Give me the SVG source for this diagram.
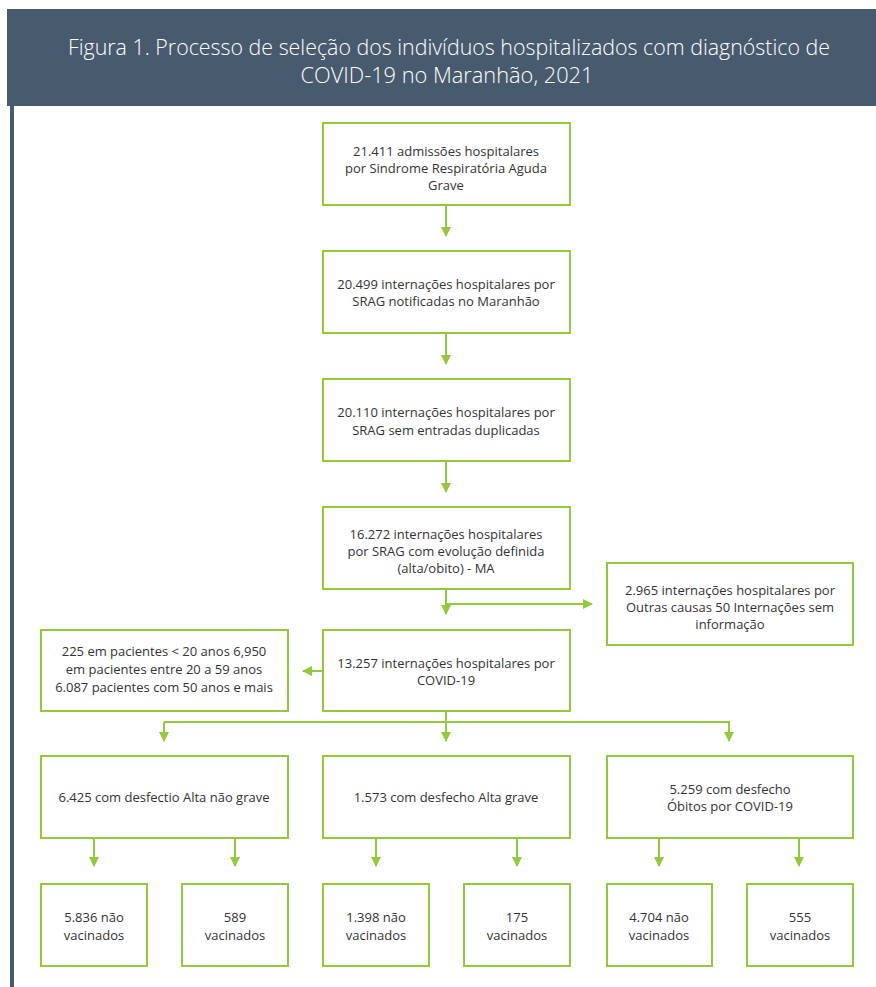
<svg xmlns="http://www.w3.org/2000/svg" width="876" height="987" viewBox="0 0 876 987">
<defs>
<style>
.box{fill:#fff;stroke:#94c83d;stroke-width:2}
.t{font-family:"Open Sans","Noto Sans",sans-serif;font-size:13px;fill:#333;text-anchor:middle}
.title{font-family:"Open Sans","Noto Sans",sans-serif;font-size:22.5px;fill:#fff;text-anchor:middle;font-weight:300}
.c{fill:none;stroke:#94c83d;stroke-width:2}
</style>
<marker id="ah" viewBox="0 0 10 10" refX="9" refY="5" markerWidth="5" markerHeight="5" orient="auto" markerUnits="strokeWidth">
<path d="M0,0 L10,5 L0,10 z" fill="#94c83d"/>
</marker>
</defs>
<rect width="876" height="987" fill="#fff"/>
<rect x="7" y="9" width="869" height="97" fill="#475a6e"/>
<rect x="10" y="106" width="4" height="881" fill="#475a6e"/>
<g id="title">
<text class="title" x="449" y="55" textLength="762" lengthAdjust="spacingAndGlyphs">Figura 1. Processo de seleção dos indivíduos hospitalizados com diagnóstico de</text>
<text class="title" x="447" y="83" textLength="293" lengthAdjust="spacingAndGlyphs">COVID-19 no Maranhão, 2021</text>
</g>
<g id="connectors">
<path class="c" d="M446,205 V236" marker-end="url(#ah)"/>
<path class="c" d="M446,333 V364" marker-end="url(#ah)"/>
<path class="c" d="M446,461 V492" marker-end="url(#ah)"/>
<path class="c" d="M446,589 V614" marker-end="url(#ah)"/>
<path class="c" d="M446,604 H592" marker-end="url(#ah)"/>
<path class="c" d="M323,671 H303" marker-end="url(#ah)"/>
<path class="c" d="M446,711 V741" marker-end="url(#ah)"/>
<path class="c" d="M164,722 H729 V741" marker-end="url(#ah)"/>
<path class="c" d="M164,722 V741" marker-end="url(#ah)"/>
<path class="c" d="M94,838 V866" marker-end="url(#ah)"/>
<path class="c" d="M235,838 V866" marker-end="url(#ah)"/>
<path class="c" d="M376,838 V866" marker-end="url(#ah)"/>
<path class="c" d="M517,838 V866" marker-end="url(#ah)"/>
<path class="c" d="M659,838 V866" marker-end="url(#ah)"/>
<path class="c" d="M799,838 V866" marker-end="url(#ah)"/>
</g>
<g id="n1"><rect class="box" x="323" y="123" width="247" height="82"/>
<text class="t" x="446" y="156">21.411 admissões hospitalares</text>
<text class="t" x="446" y="173">por Sindrome Respiratória Aguda</text>
<text class="t" x="446" y="190">Grave</text></g>
<g id="n2"><rect class="box" x="323" y="251" width="247" height="82"/>
<text class="t" x="446" y="289">20.499 internações hospitalares por</text>
<text class="t" x="446" y="306">SRAG notificadas no Maranhão</text></g>
<g id="n3"><rect class="box" x="323" y="379" width="247" height="82"/>
<text class="t" x="446" y="417">20.110 internações hospitalares por</text>
<text class="t" x="446" y="435">SRAG sem entradas duplicadas</text></g>
<g id="n4"><rect class="box" x="323" y="507" width="247" height="82"/>
<text class="t" x="446" y="539">16.272 internações hospitalares</text>
<text class="t" x="446" y="556">por SRAG com evolução definida</text>
<text class="t" x="446" y="573">(alta/obito) - MA</text></g>
<g id="n5"><rect class="box" x="607" y="563" width="246" height="82"/>
<text class="t" x="730" y="595">2.965 internações hospitalares por</text>
<text class="t" x="730" y="612">Outras causas 50 Internações sem</text>
<text class="t" x="730" y="629">informação</text></g>
<g id="n6"><rect class="box" x="323" y="630" width="247" height="81"/>
<text class="t" x="446" y="668">13.257 internações hospitalares por</text>
<text class="t" x="446" y="685">COVID-19</text></g>
<g id="n7"><rect class="box" x="41" y="630" width="247" height="81"/>
<text class="t" x="164" y="656">225 em pacientes &lt; 20 anos 6,950</text>
<text class="t" x="164" y="674">em pacientes entre 20 a 59 anos</text>
<text class="t" x="164" y="692">6.087 pacientes com 50 anos e mais</text></g>
<g id="n8"><rect class="box" x="41" y="756" width="247" height="82"/>
<text class="t" x="164" y="802">6.425 com desfectio Alta não grave</text></g>
<g id="n9"><rect class="box" x="323" y="756" width="247" height="82"/>
<text class="t" x="446" y="802">1.573 com desfecho Alta grave</text></g>
<g id="n10"><rect class="box" x="607" y="756" width="246" height="82"/>
<text class="t" x="730" y="794">5.259 com desfecho</text>
<text class="t" x="730" y="811">Óbitos por COVID-19</text></g>
<g id="n11"><rect class="box" x="41" y="884" width="106" height="82"/>
<text class="t" x="94" y="922">5.836 não</text>
<text class="t" x="94" y="940">vacinados</text></g>
<g id="n12"><rect class="box" x="182" y="884" width="106" height="82"/>
<text class="t" x="235" y="922">589</text>
<text class="t" x="235" y="940">vacinados</text></g>
<g id="n13"><rect class="box" x="323" y="884" width="106" height="82"/>
<text class="t" x="376" y="922">1.398 não</text>
<text class="t" x="376" y="940">vacinados</text></g>
<g id="n14"><rect class="box" x="464" y="884" width="106" height="82"/>
<text class="t" x="517" y="922">175</text>
<text class="t" x="517" y="940">vacinados</text></g>
<g id="n15"><rect class="box" x="607" y="884" width="105" height="82"/>
<text class="t" x="659" y="922">4.704 não</text>
<text class="t" x="659" y="940">vacinados</text></g>
<g id="n16"><rect class="box" x="747" y="884" width="106" height="82"/>
<text class="t" x="800" y="922">555</text>
<text class="t" x="800" y="940">vacinados</text></g>
</svg>
